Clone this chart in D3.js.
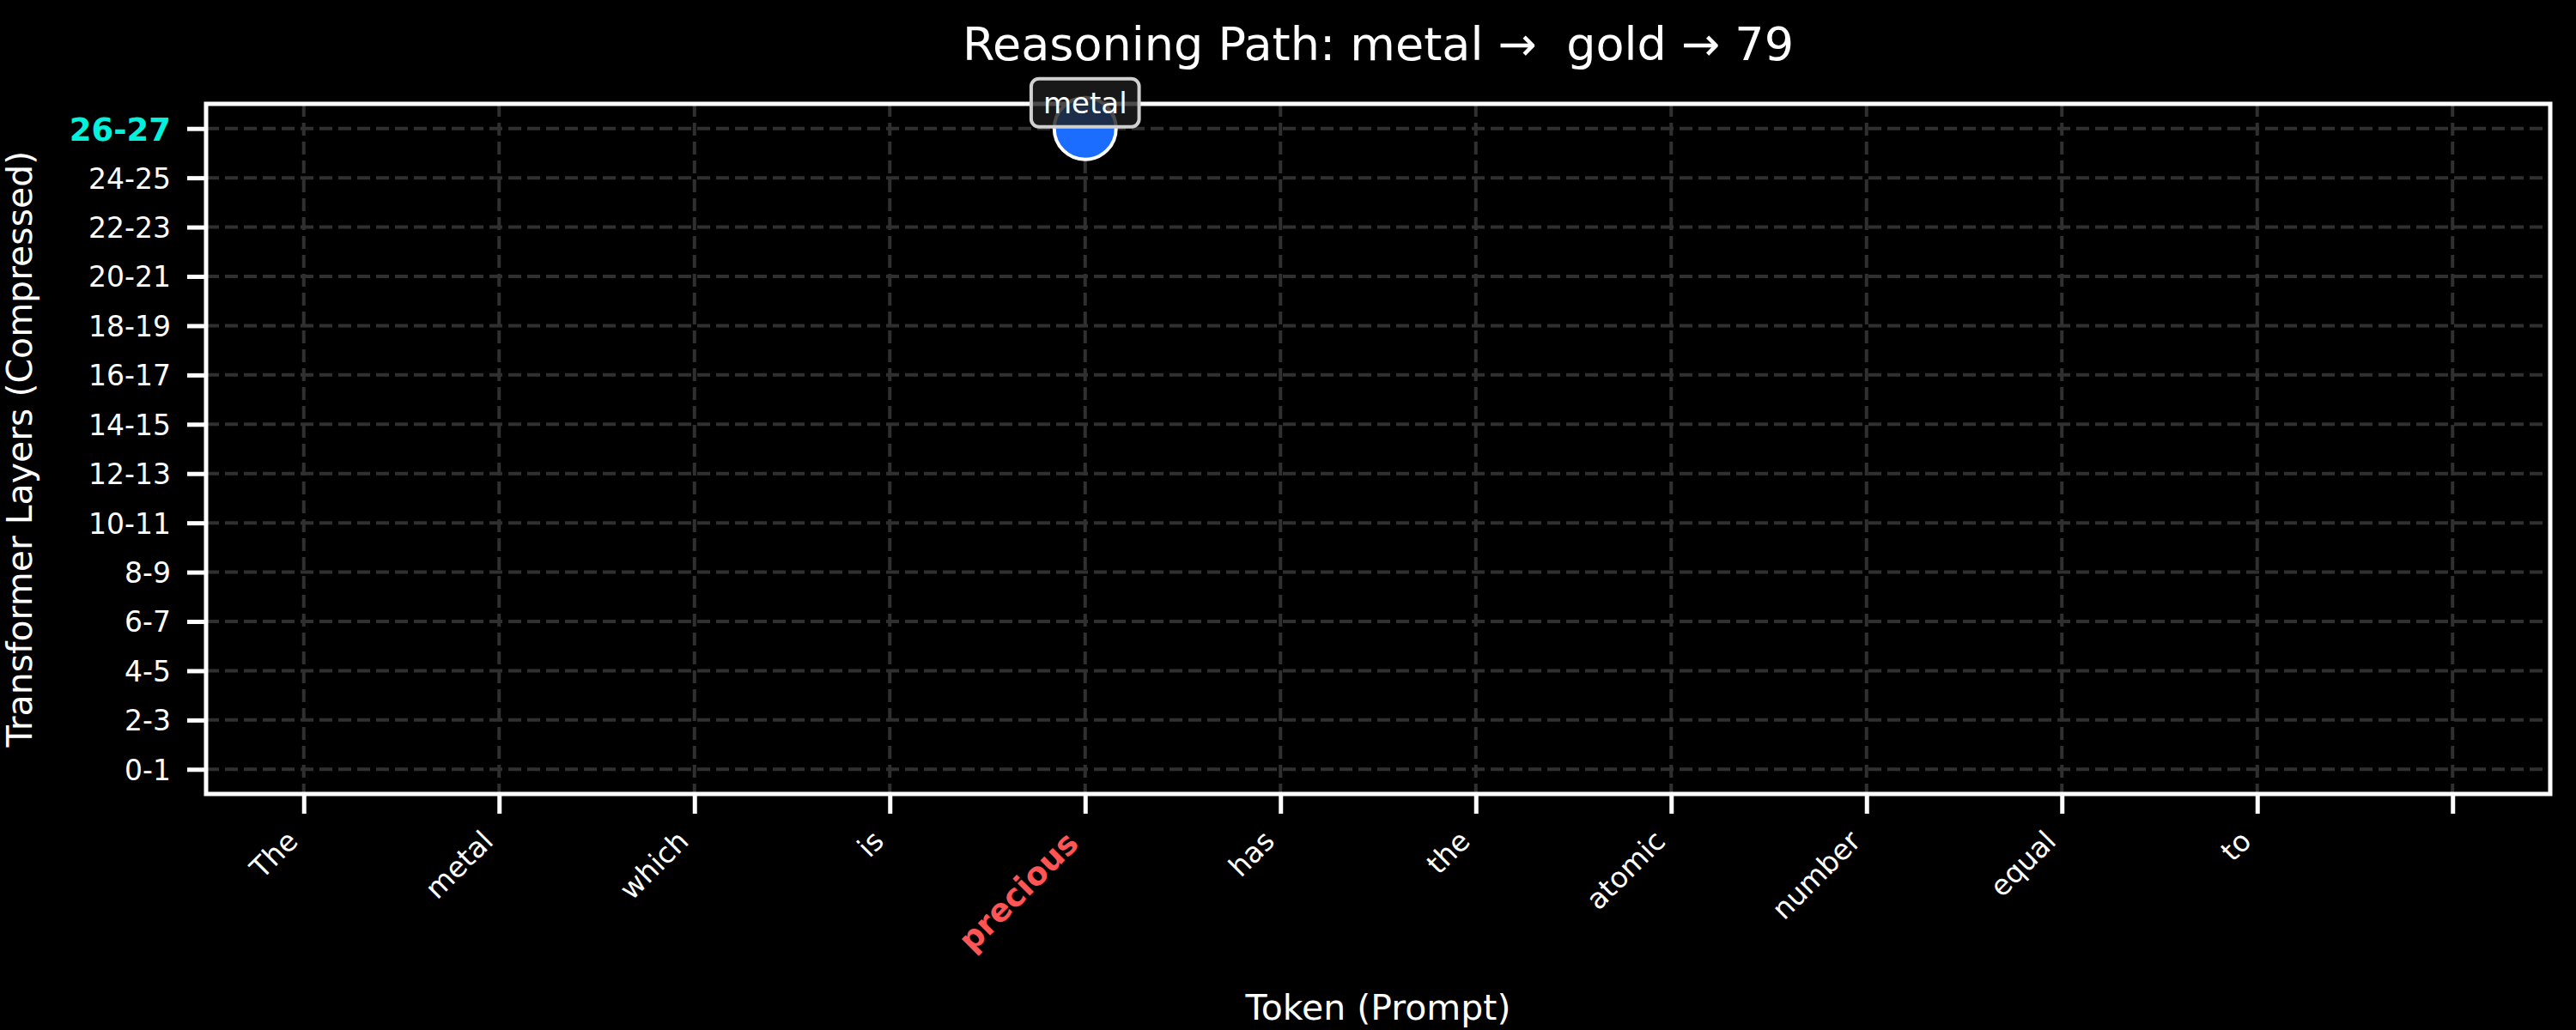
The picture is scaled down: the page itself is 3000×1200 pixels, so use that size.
<!DOCTYPE html>
<html>
<head>
<meta charset="utf-8">
<script src="https://cdn.jsdelivr.net/npm/d3@7"></script>
<style>
  html, body { margin: 0; padding: 0; background: #000; }
  svg { display: block; }
  text { font-family: "DejaVu Sans", sans-serif; white-space: pre; }
</style>
</head>
<body>
<svg id="chart" width="3000" height="1200"></svg>
<script>
// ---------------- data ----------------
const tokens = ["The", "metal", "which", "is", "precious", "has", "the", "atomic", "number", "equal", "to", ""];
const layerLabels = ["0-1", "2-3", "4-5", "6-7", "8-9", "10-11", "12-13", "14-15", "16-17", "18-19", "20-21", "22-23", "24-25", "26-27"];
const pathTokens = ["precious"];
const pathLayers = ["26-27"];
const pathLabels = ["metal"];
const highlightToken = "precious";
const highlightLayer = "26-27";
const titleText = "Reasoning Path: metal \u2192  gold \u2192 79";
const xTitle = "Token (Prompt)";
const yTitle = "Transformer Layers (Compressed)";

// ---------------- layout ----------------
const W = 3000, H = 1200;
const plot = { left: 240, right: 2970, top: 121, bottom: 925 };
const svg = d3.select("#chart");
svg.append("rect").attr("width", W).attr("height", H).attr("fill", "#000");

const x = d3.scalePoint().domain(tokens).range([plot.left, plot.right]).padding(0.5);
const y = d3.scalePoint().domain(layerLabels).range([plot.bottom, plot.top]).padding(0.5);

const gridColor = "#303030";
// grid
const grid = svg.append("g");
grid.selectAll("line.h").data(layerLabels).join("line")
  .attr("x1", plot.left).attr("x2", plot.right)
  .attr("y1", d => y(d)).attr("y2", d => y(d))
  .attr("stroke", gridColor).attr("stroke-width", 4).attr("stroke-dasharray", "15,7");
grid.selectAll("line.v").data(tokens).join("line")
  .attr("x1", d => x(d)).attr("x2", d => x(d))
  .attr("y1", plot.top).attr("y2", plot.bottom)
  .attr("stroke", gridColor).attr("stroke-width", 4).attr("stroke-dasharray", "15,7");

// axes
const tickFs = 33, hlFs = 37;
const yAxis = svg.append("g").attr("transform", `translate(${plot.left},0)`)
  .call(d3.axisLeft(y).tickSize(22).tickSizeOuter(0).tickPadding(19));
yAxis.select(".domain").remove();
yAxis.selectAll(".tick line").attr("stroke", "#fff").attr("stroke-width", 5);
yAxis.selectAll(".tick text")
  .attr("fill", d => d === highlightLayer ? "#00f2dc" : "#fff")
  .attr("font-weight", d => d === highlightLayer ? "bold" : "normal")
  .style("font-size", d => (d === highlightLayer ? hlFs : tickFs) + "px")
  .style("font-family", "'DejaVu Sans', sans-serif")
  .attr("dy", "0.36em");

const xAxis = svg.append("g").attr("transform", `translate(0,${plot.bottom})`)
  .call(d3.axisBottom(x).tickSize(23).tickSizeOuter(0));
xAxis.select(".domain").remove();
xAxis.selectAll(".tick line").attr("stroke", "#fff").attr("stroke-width", 5);
xAxis.selectAll(".tick text").each(function(d) {
  const hl = d === highlightToken;
  const fs = hl ? hlFs : tickFs;
  const desc = 0.236 * fs, asc = 0.94 * fs;
  const topY = 23 + 12; // tick length + pad (relative to axis line)
  d3.select(this)
    .attr("y", null).attr("dy", null)
    .attr("text-anchor", "end")
    .attr("fill", hl ? "#ff5555" : "#fff")
    .attr("font-weight", hl ? "bold" : "normal")
    .style("font-size", fs + "px")
    .style("font-family", "'DejaVu Sans', sans-serif")
    .attr("transform", `translate(${-0.707 * desc},${topY + 0.707 * asc}) rotate(-45)`);
});

// frame
svg.append("rect")
  .attr("x", plot.left).attr("y", plot.top)
  .attr("width", plot.right - plot.left).attr("height", plot.bottom - plot.top)
  .attr("fill", "none").attr("stroke", "#fff").attr("stroke-width", 5);

// path points
const pts = pathTokens.map((t, i) => ({ token: t, layer: pathLayers[i], label: pathLabels[i] }));
svg.append("g").selectAll("circle").data(pts).join("circle")
  .attr("cx", d => x(d.token)).attr("cy", d => y(d.layer)).attr("r", 36)
  .attr("fill", "#1a6dff").attr("stroke", "#fff").attr("stroke-width", 4);

const lab = svg.append("g").selectAll("g").data(pts).join("g")
  .attr("transform", d => `translate(${x(d.token)},${y(d.layer) - 30})`);
lab.each(function(d) {
  const g = d3.select(this);
  const rect = g.append("rect");
  const t = g.append("text").text(d.label)
    .attr("text-anchor", "middle").attr("y", 12)
    .attr("fill", "#fff").style("font-size", "34px");
  const w = t.node().getComputedTextLength() + 28;
  rect.attr("x", -w / 2).attr("y", -28).attr("width", w).attr("height", 56)
    .attr("rx", 9).attr("ry", 9)
    .attr("fill", "rgba(30,30,30,0.8)")
    .attr("stroke", "#d0d0d0").attr("stroke-width", 4);
  t.raise();
});

// titles
svg.append("text").attr("x", (plot.left + plot.right) / 2).attr("y", 70)
  .attr("text-anchor", "middle").attr("fill", "#fff").style("font-size", "54px")
  .attr("xml:space", "preserve")
  .text(titleText);
svg.append("text").attr("x", (plot.left + plot.right) / 2).attr("y", 1188)
  .attr("text-anchor", "middle").attr("fill", "#fff").style("font-size", "41px")
  .text(xTitle);
svg.append("text")
  .attr("transform", `translate(37,${(plot.top + plot.bottom) / 2}) rotate(-90)`)
  .attr("text-anchor", "middle").attr("fill", "#fff").style("font-size", "41px")
  .text(yTitle);
</script>
</body>
</html>
